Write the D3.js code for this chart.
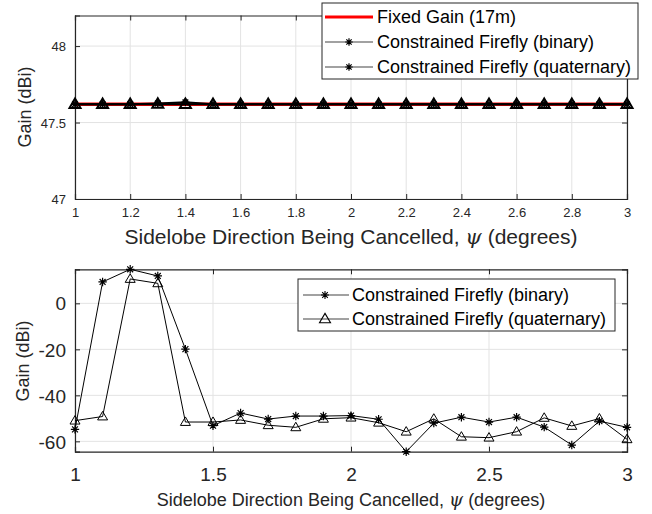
<!DOCTYPE html>
<html>
<head>
<meta charset="utf-8">
<script src="https://cdn.jsdelivr.net/npm/d3@7"></script>
<style>
  html, body { margin: 0; padding: 0; background: #fff; }
  svg { display: block; font-family: "Liberation Sans", Arial, Helvetica, sans-serif; }
</style>
</head>
<body>
<svg id="chart" width="652" height="514"></svg>
<script>
// Sidelobe directions (degrees)
const psi = [1.0, 1.1, 1.2, 1.3, 1.4, 1.5, 1.6, 1.7, 1.8, 1.9, 2.0,
             2.1, 2.2, 2.3, 2.4, 2.5, 2.6, 2.7, 2.8, 2.9, 3.0];

// Main-beam gain (dBi)
const fixedGain = psi.map(() => 47.62);
const mainBinary = [47.62, 47.62, 47.62, 47.625, 47.632, 47.62, 47.62, 47.62, 47.62, 47.62, 47.62,
                    47.62, 47.62, 47.62, 47.62, 47.62, 47.62, 47.62, 47.62, 47.62, 47.62];
const mainQuaternary = [47.62, 47.62, 47.62, 47.622, 47.62, 47.62, 47.62, 47.62, 47.62, 47.62, 47.62,
                        47.62, 47.62, 47.62, 47.62, 47.62, 47.62, 47.62, 47.62, 47.62, 47.62];

// Gain towards the cancelled sidelobe direction (dBi)
const sideBinary = [-54.8, 9.3, 14.8, 11.9, -19.9, -53.2, -47.7, -50.3, -49.0, -49.0, -48.8,
                    -50.4, -64.5, -52.1, -49.5, -51.6, -49.5, -53.8, -61.6, -51.2, -53.9];
const sideQuaternary = [-51.0, -49.2, 10.6, 8.7, -51.6, -51.6, -50.7, -53.0, -53.9, -50.2, -49.7,
                        -51.9, -55.8, -50.2, -58.0, -58.4, -55.8, -49.8, -53.3, -50.1, -59.1];

const topXTicks = [1, 1.2, 1.4, 1.6, 1.8, 2, 2.2, 2.4, 2.6, 2.8, 3];
const topYTicks = [47, 47.5, 48];
const botXTicks = [1, 1.5, 2, 2.5, 3];
const botYTicks = [-60, -40, -20, 0];

const topLegend = ["Fixed Gain (17m)", "Constrained Firefly (binary)", "Constrained Firefly (quaternary)"];
const botLegend = ["Constrained Firefly (binary)", "Constrained Firefly (quaternary)"];

const svg = d3.select("#chart");
const axisColor = "#262626";
const gridColor = "#e3e3e3";

const starPath = d3.symbol().type({
  draw(ctx, size) {
    const r = Math.sqrt(size) / 2;
    const d = r * Math.SQRT1_2;
    ctx.moveTo(-r, 0); ctx.lineTo(r, 0);
    ctx.moveTo(0, -r); ctx.lineTo(0, r);
    ctx.moveTo(-d, -d); ctx.lineTo(d, d);
    ctx.moveTo(-d, d); ctx.lineTo(d, -d);
  }
});
function triPath(w) {
  const h = w * 0.85;
  return `M0,${-h * 0.6}L${w / 2},${h * 0.4}L${-w / 2},${h * 0.4}Z`;
}

function panel(cfg) {
  const { x0, x1, y0, y1, xDomain, yDomain, xTicks, yTicks, xFmt, yFmt, tickFont, xPad } = cfg;
  const x = d3.scaleLinear().domain(xDomain).range([x0, x1]);
  const y = d3.scaleLinear().domain(yDomain).range([y1, y0]);
  const g = svg.append("g");

  // grid
  g.append("g").selectAll("line").data(xTicks).join("line")
    .attr("x1", d => x(d)).attr("x2", d => x(d)).attr("y1", y0).attr("y2", y1)
    .attr("stroke", gridColor).attr("stroke-width", 1);
  g.append("g").selectAll("line").data(yTicks).join("line")
    .attr("y1", d => y(d)).attr("y2", d => y(d)).attr("x1", x0).attr("x2", x1)
    .attr("stroke", gridColor).attr("stroke-width", 1);

  // axes with inward ticks on all four sides
  const tl = 5;
  const bottom = g.append("g").attr("transform", `translate(0,${y1})`)
    .call(d3.axisBottom(x).tickValues(xTicks).tickSize(-tl).tickPadding(xPad).tickFormat(xFmt));
  const top = g.append("g").attr("transform", `translate(0,${y0})`)
    .call(d3.axisTop(x).tickValues(xTicks).tickSize(-tl).tickFormat(""));
  const left = g.append("g").attr("transform", `translate(${x0},0)`)
    .call(d3.axisLeft(y).tickValues(yTicks).tickSize(-tl).tickPadding(tl + 4).tickFormat(yFmt));
  const right = g.append("g").attr("transform", `translate(${x1},0)`)
    .call(d3.axisRight(y).tickValues(yTicks).tickSize(-tl).tickFormat(""));
  [bottom, top, left, right].forEach(a => {
    a.select(".domain").attr("stroke", axisColor).attr("stroke-width", 1.2);
    a.selectAll(".tick line").attr("stroke", axisColor).attr("stroke-width", 1);
    a.selectAll("text").attr("fill", axisColor).attr("font-size", tickFont)
      .attr("font-family", "'Liberation Sans', Arial, sans-serif");
  });
  left.selectAll("text").attr("dy", "0.35em");
  return { x, y, g };
}

function titleX(cx, cy, size) {
  const t = svg.append("text").attr("x", cx).attr("y", cy).attr("text-anchor", "middle")
    .attr("font-size", size).attr("fill", axisColor);
  t.append("tspan").text("Sidelobe Direction Being Cancelled, ");
  t.append("tspan").attr("font-family", "'DejaVu Serif', 'Liberation Serif', serif")
    .attr("font-style", "italic").text("\u03C8");
  t.append("tspan").text(" (degrees)");
}
function titleY(cx, cy, size) {
  svg.append("text").attr("transform", `translate(${cx},${cy}) rotate(-90)`)
    .attr("text-anchor", "middle").attr("font-size", size).attr("fill", axisColor)
    .text("Gain (dBi)");
}

// ---------- upper panel: main-beam gain ----------
const P1 = panel({
  x0: 75, x1: 627, y0: 15.5, y1: 199,
  xDomain: [1, 3], yDomain: [47, 48.2],
  xTicks: topXTicks, yTicks: topYTicks,
  xFmt: d3.format("~g"), yFmt: d3.format("~g"), tickFont: 13, xPad: 9
});
titleX(351, 244, 21);
titleY(31, 107, 18);

const line1 = (ys) => d3.line().x((d, i) => P1.x(psi[i])).y(d => P1.y(d))(ys);
P1.g.append("path").attr("d", line1(fixedGain)).attr("fill", "none")
  .attr("stroke", "#ff0000").attr("stroke-width", 3.5);
P1.g.append("path").attr("d", line1(mainQuaternary)).attr("fill", "none")
  .attr("stroke", "#000").attr("stroke-width", 2);
P1.g.append("path").attr("d", line1(mainBinary)).attr("fill", "none")
  .attr("stroke", "#000").attr("stroke-width", 2);
P1.g.append("g").selectAll("path").data(mainQuaternary).join("path")
  .attr("transform", (d, i) => `translate(${P1.x(psi[i])},${P1.y(d)})`)
  .attr("d", triPath(11)).attr("fill", "none").attr("stroke", "#000").attr("stroke-width", 2);
P1.g.append("g").selectAll("path").data(mainBinary).join("path")
  .attr("transform", (d, i) => `translate(${P1.x(psi[i])},${P1.y(d)})`)
  .attr("d", starPath.size(64)()).attr("fill", "none").attr("stroke", "#000").attr("stroke-width", 1.5);

// upper legend
{
  const lg = svg.append("g").attr("transform", "translate(322,3)");
  lg.append("rect").attr("width", 316).attr("height", 76).attr("fill", "#fff")
    .attr("stroke", axisColor).attr("stroke-width", 1);
  topLegend.forEach((name, i) => {
    const yy = 14 + i * 25;
    const isFixed = i === 0;
    lg.append("line").attr("x1", 3).attr("x2", 51).attr("y1", yy).attr("y2", yy)
      .attr("stroke", isFixed ? "#ff0000" : "#444").attr("stroke-width", isFixed ? 3 : 1.2);
    if (!isFixed) {
      lg.append("path").attr("transform", `translate(27,${yy})`).attr("d", starPath.size(56)())
        .attr("fill", "none").attr("stroke", "#000").attr("stroke-width", 1.2);
    }
    lg.append("text").attr("x", 55).attr("y", yy).attr("dy", "0.35em")
      .attr("font-size", 18).attr("fill", "#000").text(name);
  });
}

// ---------- lower panel: gain towards the cancelled sidelobe ----------
const P2 = panel({
  x0: 75, x1: 627, y0: 269.3, y1: 451.7,
  xDomain: [1, 3], yDomain: [-64.5, 14.8],
  xTicks: botXTicks, yTicks: botYTicks,
  xFmt: d3.format("~g"), yFmt: d => d3.format("~g")(d).replace("\u2212", "-"), tickFont: 19, xPad: 16
});
titleX(351, 506, 18);
titleY(29, 361, 18);

const line2 = (ys) => d3.line().x((d, i) => P2.x(psi[i])).y(d => P2.y(d))(ys);
P2.g.append("path").attr("d", line2(sideBinary)).attr("fill", "none")
  .attr("stroke", "#000").attr("stroke-width", 1);
P2.g.append("path").attr("d", line2(sideQuaternary)).attr("fill", "none")
  .attr("stroke", "#000").attr("stroke-width", 1);
P2.g.append("g").selectAll("path").data(sideQuaternary).join("path")
  .attr("transform", (d, i) => `translate(${P2.x(psi[i])},${P2.y(d)})`)
  .attr("d", triPath(10)).attr("fill", "none").attr("stroke", "#000").attr("stroke-width", 1);
P2.g.append("g").selectAll("path").data(sideBinary).join("path")
  .attr("transform", (d, i) => `translate(${P2.x(psi[i])},${P2.y(d)})`)
  .attr("d", starPath.size(70)()).attr("fill", "none").attr("stroke", "#000").attr("stroke-width", 1.2);

// lower legend
{
  const lg = svg.append("g").attr("transform", "translate(298,279)");
  lg.append("rect").attr("width", 317).attr("height", 52).attr("fill", "#fff")
    .attr("stroke", axisColor).attr("stroke-width", 1);
  botLegend.forEach((name, i) => {
    const yy = 16 + i * 24;
    lg.append("line").attr("x1", 5).attr("x2", 51).attr("y1", yy).attr("y2", yy)
      .attr("stroke", "#444").attr("stroke-width", 1.2);
    lg.append("path").attr("transform", `translate(27,${yy})`)
      .attr("d", i === 0 ? starPath.size(64)() : triPath(11))
      .attr("fill", "none").attr("stroke", "#000").attr("stroke-width", 1.1);
    lg.append("text").attr("x", 54).attr("y", yy).attr("dy", "0.35em")
      .attr("font-size", 18).attr("fill", "#000").text(name);
  });
}
</script>
</body>
</html>
